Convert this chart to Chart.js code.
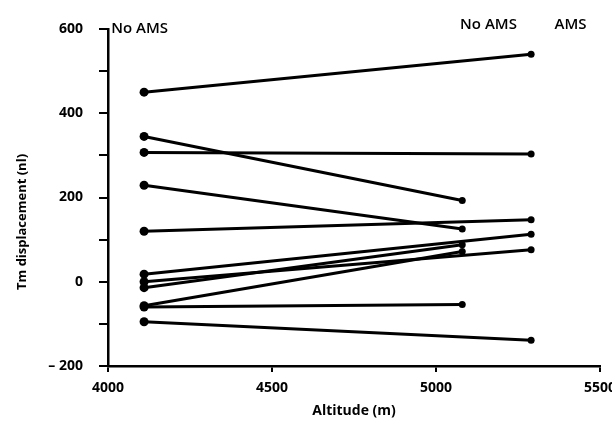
<!DOCTYPE html>
<html>
<head>
<meta charset="utf-8">
<script src="https://cdn.jsdelivr.net/npm/chart.js@4"></script>
<style>
  html, body { margin: 0; padding: 0; background: #fff; }
  #wrap { width: 612px; height: 423px; }
</style>
</head>
<body>
<div id="wrap"><canvas id="myChart" width="612" height="423"></canvas></div>
<script>
// one line per subject: low altitude reading -> high altitude reading
var startAltitude = 4110;
var endAltitudes = [5290, 5080, 5290, 5080, 5290, 5290, 5290, 5080, 5080, 5080, 5290];
var startValues = [450, 345, 307, 229, 120, 18, 0, -14, -57, -60, -95];
var endValues = [540, 193, 303, 125, 147, 113, 76, 88, 72, -54, -139];

var yTickLabels = { '600': '600', '400': '400', '200': '200', '0': '0', '-200': '\u2013 200' };
var xTickLabels = { '4000': '4000', '4500': '4500', '5000': '5000', '5500': '5500' };

// column notes written over the plot
var notes = [
    { text: 'No AMS', x: 4010, y: 600, align: 'left' },
    { text: 'No AMS', x: 5160, y: 610, align: 'center' },
    { text: 'AMS', x: 5410, y: 610, align: 'center' }
];

var datasets = startValues.map(function(v, i){
    return {
        data: [{ x: startAltitude, y: v }, { x: endAltitudes[i], y: endValues[i] }],
        showLine: true,
        borderColor: '#000',
        borderWidth: 3,
        backgroundColor: '#000',
        pointBackgroundColor: '#000',
        pointBorderColor: '#000',
        pointRadius: [4.5, 3.5],
        pointBorderWidth: 0
    };
});

var notesPlugin = {
    id: 'notes',
    afterDraw: function(chart){
        var ctx = chart.ctx;
        var xs = chart.scales.x, ys = chart.scales.y;
        ctx.save();
        ctx.fillStyle = '#000';
        ctx.font = '600 15px "Open Sans"';
        ctx.textBaseline = 'middle';
        notes.forEach(function(n){
            ctx.textAlign = n.align;
            ctx.fillText(n.text, xs.getPixelForValue(n.x), ys.getPixelForValue(n.y));
        });
        // y axis title, sits a bit below the middle of the axis
        ctx.translate(22, 222);
        ctx.rotate(-Math.PI / 2);
        ctx.textAlign = 'center';
        ctx.font = 'bold 13px "Open Sans"';
        ctx.fillText('Tm displacement (nl)', 0, 0);
        ctx.restore();
    }
};

var ctx = document.getElementById('myChart').getContext('2d');
var myChart = new Chart(ctx, {
    type: 'scatter',
    data: { datasets: datasets },
    plugins: [notesPlugin],
    options: {
        responsive: false,
        animation: false,
        layout: { padding: { top: 29, right: 12, left: 0, bottom: 0 } },
        plugins: { legend: { display: false }, tooltip: { enabled: false } },
        scales: {
            x: {
                type: 'linear',
                min: 4000, max: 5500,
                afterFit: function(s){ s.height = 57; s.paddingRight = 0; s.paddingLeft = 0; },
                border: { color: '#000', width: 2.5 },
                grid: { drawOnChartArea: false, drawTicks: true, tickLength: 6, color: '#000', lineWidth: 2 },
                ticks: {
                    stepSize: 500, padding: 8, color: '#000',
                    font: { family: 'Open Sans', size: 14, weight: 'bold' },
                    maxRotation: 0,
                    callback: function(v){ return xTickLabels[String(v)]; }
                },
                title: {
                    display: true, text: 'Altitude (m)', color: '#000',
                    font: { family: 'Open Sans', size: 14, weight: 'bold' },
                    padding: { top: 0, bottom: 4 }
                }
            },
            y: {
                type: 'linear',
                min: -200, max: 600,
                afterFit: function(s){ s.width = 108; },
                border: { color: '#000', width: 2.5 },
                grid: { drawOnChartArea: false, drawTicks: true, tickLength: 9, color: '#000', lineWidth: 2 },
                ticks: {
                    stepSize: 100, padding: 16, color: '#000',
                    font: { family: 'Open Sans', size: 14, weight: 'bold' },
                    callback: function(v){
                        var l = yTickLabels[String(v)];
                        return l === undefined ? '' : l;
                    }
                }
            }
        }
    }
});
</script>
</body>
</html>
